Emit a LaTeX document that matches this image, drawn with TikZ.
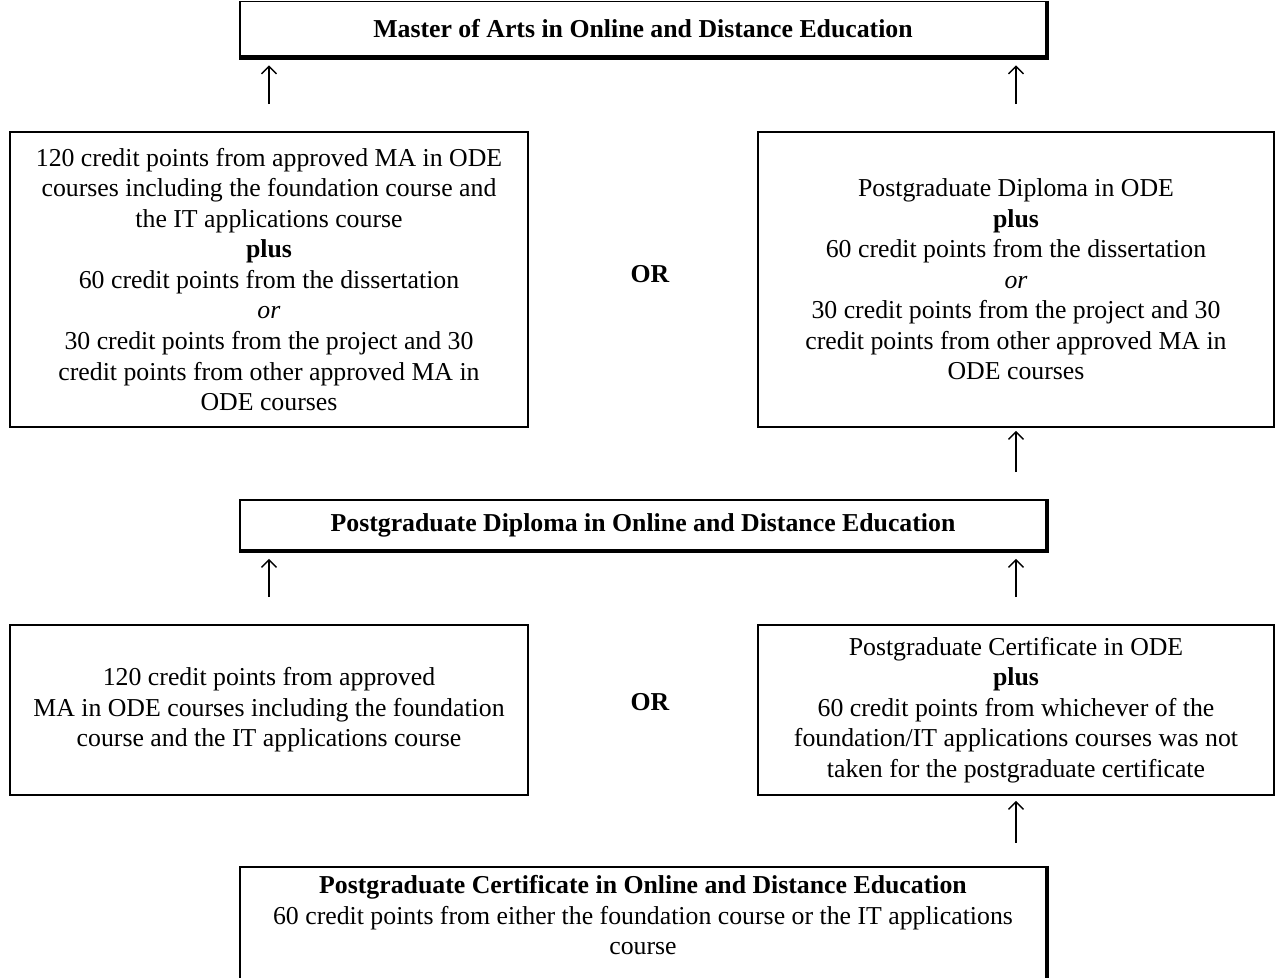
\documentclass[tikz,border=0pt]{standalone}
\usepackage{fontspec}
\setmainfont{Liberation Serif}
\usetikzlibrary{arrows.meta}
\newdimen\px \px=0.4653pt

\begin{document}
\begin{tikzpicture}[x=0.4653pt,y=-0.4653pt]
            \tikzstyle{plain box}=[draw,line width=0.9pt,align=center,inner sep=0pt,font=\fontsize{12}{14.2}\selectfont]
            \tikzstyle{head box}=[plain box,font=\fontsize{12}{14.2}\selectfont\bfseries,minimum width=806\px]
            \tikzstyle{heavy edge}=[line width=2.2pt]
            \tikzstyle{up arrow}=[-{Straight Barb[length=3.5pt,width=7pt]},line width=0.6pt]
            \tikzstyle{or label}=[font=\fontsize{12}{14.2}\selectfont\bfseries]

            \useasboundingbox (0,0) rectangle (1279,978);
            \clip (0,0) rectangle (1279,978);

            % master of arts
            \node(ma)[head box,minimum height=55\px] at (643,29) {Master of Arts in Online and Distance Education};
            \node(lmab)[plain box,minimum width=518\px,minimum height=295\px] at (269,279.5)
            {120 credit points from approved MA in ODE\\ courses including the foundation course and\\ the IT applications course\\ \textbf{plus}\\ 60 credit points from the dissertation\\ \textit{or}\\ 30 credit points from the project and 30\\ credit points from other approved MA in\\ ODE courses};
            \node(rmab)[plain box,minimum width=516\px,minimum height=295\px] at (1016,279.5)
            {Postgraduate Diploma in ODE\\ \textbf{plus}\\ 60 credit points from the dissertation\\ \textit{or}\\ 30 credit points from the project and 30\\ credit points from other approved MA in\\ ODE courses};
            \node(or1)[or label] at (650,274) {OR};

            % postgraduate diploma
            \node(pgd)[head box,minimum height=50\px] at (643,525) {Postgraduate Diploma in Online and Distance Education};
            \node(lpgd)[plain box,minimum width=518\px,minimum height=170\px] at (269,710)
            {120 credit points from approved\\ MA in ODE courses including the foundation\\ course and the IT applications course};
            \node(rpgd)[plain box,minimum width=516\px,minimum height=170\px] at (1016,710)
            {Postgraduate Certificate in ODE\\ \textbf{plus}\\ 60 credit points from whichever of the\\ foundation/IT applications courses was not\\ taken for the postgraduate certificate};
            \node(or2)[or label] at (650,702) {OR};

            % postgraduate certificate
            \node(pgc)[plain box,minimum width=806\px,anchor=north,inner sep=4pt,text depth=30pt] at (643,866)
            {\textbf{Postgraduate Certificate in Online and Distance Education}\\ 60 credit points from either the foundation course or the IT applications\\ course};

            \foreach \n in {ma,pgd,pgc}
            \draw[heavy edge] (\n.north east) -- (\n.south east) -- (\n.south west);

            \draw[up arrow,shorten <=27\px,shorten >=8\px] (lmab.north) -- (lmab.north |- ma.south);
            \draw[up arrow,shorten <=27\px,shorten >=8\px] (rmab.north) -- (rmab.north |- ma.south);
            \draw[up arrow,shorten <=27\px,shorten >=3\px] (rmab.south |- pgd.north) -- (rmab.south);
            \draw[up arrow,shorten <=27\px,shorten >=8\px] (lpgd.north) -- (lpgd.north |- pgd.south);
            \draw[up arrow,shorten <=27\px,shorten >=8\px] (rpgd.north) -- (rpgd.north |- pgd.south);
            \draw[up arrow,shorten <=23\px,shorten >=5\px] (rpgd.south |- pgc.north) -- (rpgd.south);
        \end{tikzpicture}
\end{document}
